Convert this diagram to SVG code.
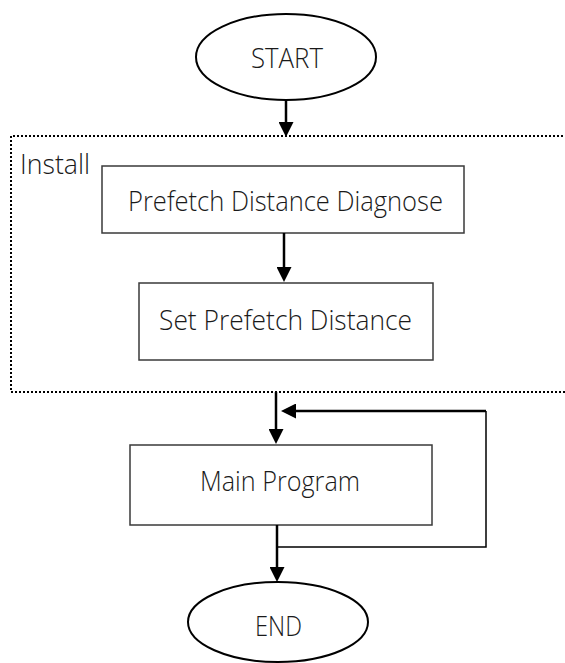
<svg xmlns="http://www.w3.org/2000/svg" width="565" height="663" viewBox="0 0 565 663">
  <style>
    .lbl { font-family: "Open Sans", "Noto Sans", "DejaVu Sans", sans-serif; font-size: 27px; font-weight: 300; fill: #1a1a1a; }
    .mid { text-anchor: middle; }
    .term { fill: #ffffff; stroke: #000000; stroke-width: 2; }
    .box { fill: #ffffff; stroke: #3a3a3a; stroke-width: 1.5; }
    .flow { fill: none; stroke: #000000; stroke-width: 2.5; }
    .loop { fill: none; stroke: #000000; stroke-width: 1.5; }
    .group { fill: none; stroke: #000000; stroke-width: 2; stroke-dasharray: 2 2; }
  </style>
  <defs>
    <marker id="head" markerUnits="userSpaceOnUse" markerWidth="15" markerHeight="15" refX="10" refY="7.5" orient="auto">
      <path d="M0,0 L15,7.5 L0,15 Z" fill="#000000"/>
    </marker>
  </defs>

  <rect width="565" height="663" fill="#ffffff"/>

  <!-- install phase boundary -->
  <g id="install-group">
    <path class="group" d="M567,136 H11 V392 H567"/>
    <text class="lbl" x="20" y="174" textLength="70" lengthAdjust="spacingAndGlyphs">Install</text>
  </g>

  <g id="start">
    <ellipse class="term" cx="286" cy="57" rx="90" ry="43"/>
    <text class="lbl mid" x="287" y="68" textLength="72" lengthAdjust="spacingAndGlyphs">START</text>
  </g>

  <g id="diagnose">
    <rect class="box" x="102" y="166" width="362" height="67"/>
    <text class="lbl mid" x="285.5" y="211" textLength="315" lengthAdjust="spacingAndGlyphs">Prefetch Distance Diagnose</text>
  </g>

  <g id="set-distance">
    <rect class="box" x="139" y="283" width="294" height="77"/>
    <text class="lbl mid" x="285.5" y="330" textLength="253" lengthAdjust="spacingAndGlyphs">Set Prefetch Distance</text>
  </g>

  <g id="main-program">
    <rect class="box" x="130" y="445" width="302" height="80"/>
    <text class="lbl mid" x="280" y="491" textLength="160" lengthAdjust="spacingAndGlyphs">Main Program</text>
  </g>

  <g id="end">
    <ellipse class="term" cx="278" cy="622" rx="90" ry="40"/>
    <text class="lbl mid" x="278.5" y="636" textLength="47" lengthAdjust="spacingAndGlyphs">END</text>
  </g>

  <g id="connectors">
    <path class="flow" d="M286,100 V132" marker-end="url(#head)"/>
    <path class="flow" d="M284,233 V277" marker-end="url(#head)"/>
    <path class="flow" d="M276,392 V439" marker-end="url(#head)"/>
    <path class="flow" d="M277,525 V577" marker-end="url(#head)"/>
    <!-- repeat loop back into the main program -->
    <path class="loop" d="M277,547 H486 V411"/>
    <path class="flow" d="M486,411 H286" stroke-width="2" marker-end="url(#head)"/>
  </g>
</svg>
